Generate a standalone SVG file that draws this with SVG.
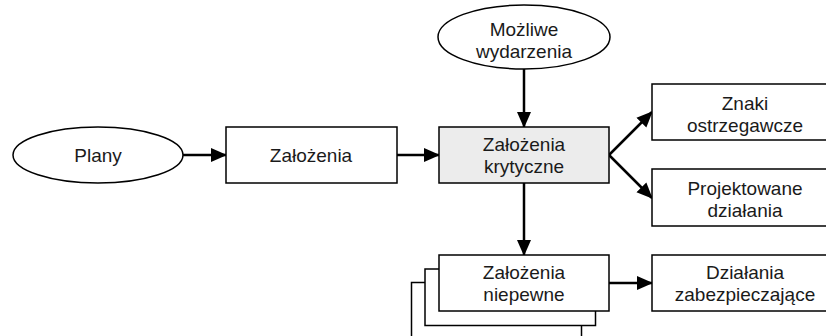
<svg xmlns="http://www.w3.org/2000/svg" width="826" height="336" viewBox="0 0 826 336">
<style>
.n{fill:#fff;stroke:#000;stroke-width:1.5}
.g{fill:#ececec;stroke:#000;stroke-width:1.5}
.t{font-family:"Liberation Sans","Open Sans",sans-serif;font-size:19px;fill:#1a1a1a;text-anchor:middle}
.c{stroke:#000;stroke-width:2.5;fill:none;marker-end:url(#a)}
</style>
<defs>
<marker id="a" markerUnits="userSpaceOnUse" markerWidth="16" markerHeight="16" viewBox="0 0 16 16" refX="15" refY="8" orient="auto">
<path d="M0,1 L16,8 L0,15 Z" fill="#000"/>
</marker>
</defs>
<g id="connectors">
<line class="c" x1="183" y1="155" x2="226" y2="155"/>
<line class="c" x1="397" y1="155" x2="439" y2="155"/>
<line class="c" x1="524" y1="69" x2="524" y2="127"/>
<line class="c" x1="609" y1="155" x2="652" y2="112"/>
<line class="c" x1="609" y1="155" x2="652" y2="198"/>
<line class="c" x1="524" y1="183" x2="524" y2="255"/>
<line class="c" x1="609" y1="283" x2="652" y2="283"/>
</g>
<g id="plany">
<ellipse class="n" cx="98" cy="155" rx="85" ry="28"/>
<text class="t" x="98" y="162">Plany</text>
</g>
<g id="zalozenia">
<rect class="n" x="226" y="127" width="171" height="56"/>
<text class="t" x="311" y="162">Założenia</text>
</g>
<g id="mozliwe">
<ellipse class="n" cx="524" cy="37" rx="86" ry="32"/>
<text class="t" x="524" y="36">Możliwe</text>
<text class="t" x="524" y="58">wydarzenia</text>
</g>
<g id="krytyczne">
<rect class="g" x="439" y="127" width="170" height="56"/>
<text class="t" x="524" y="151">Założenia</text>
<text class="t" x="524" y="173">krytyczne</text>
</g>
<g id="znaki">
<rect class="n" x="652" y="84" width="186" height="56"/>
<text class="t" x="745" y="110">Znaki</text>
<text class="t" x="745" y="132">ostrzegawcze</text>
</g>
<g id="projektowane">
<rect class="n" x="652" y="169" width="186" height="57"/>
<text class="t" x="745" y="195">Projektowane</text>
<text class="t" x="745" y="217">działania</text>
</g>
<g id="niepewne">
<rect class="n" x="411.5" y="282.5" width="170" height="60"/>
<rect class="n" x="425" y="269" width="170.5" height="56.5"/>
<rect class="n" x="439" y="255" width="170" height="56"/>
<text class="t" x="524" y="279">Założenia</text>
<text class="t" x="524" y="301">niepewne</text>
</g>
<g id="zabezpieczajace">
<rect class="n" x="652" y="255" width="186" height="56"/>
<text class="t" x="745" y="279">Działania</text>
<text class="t" x="745" y="301">zabezpieczające</text>
</g>
</svg>
